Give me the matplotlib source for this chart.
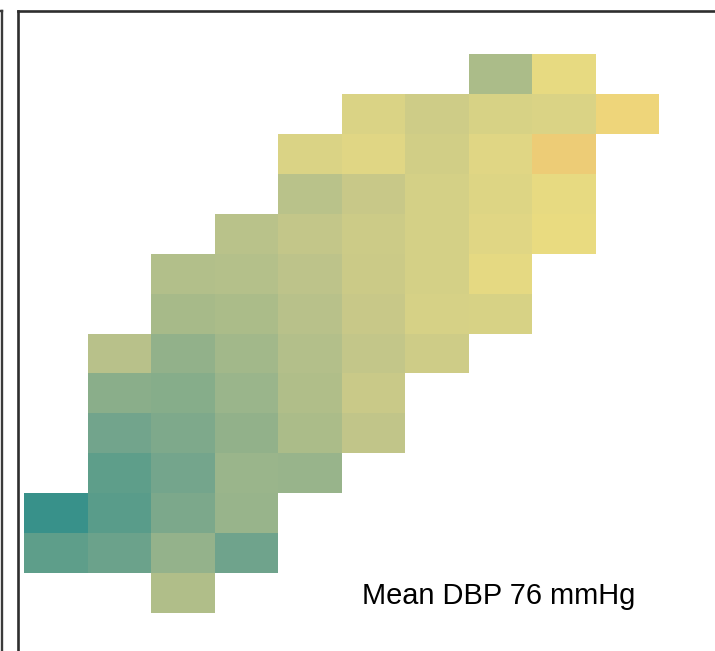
import numpy as np
import matplotlib
matplotlib.use("Agg")
import matplotlib.pyplot as plt
from matplotlib.colors import LinearSegmentedColormap, Normalize

# ---- data: mean DBP (mmHg) per cell, each row listed from its first occupied column ----
row_start = [7, 5, 4, 4, 3, 2, 2, 1, 1, 1, 1, 0, 0, 2]
row_values = [
    [74.0, 83.5],
    [81.0, 79.0, 80.5, 81.0, 86.0],
    [81.0, 82.0, 79.5, 82.0, 88.0],
    [76.0, 78.0, 80.0, 81.5, 83.5],
    [76.0, 77.3, 78.7, 80.0, 82.0, 84.0],
    [75.0, 75.3, 76.5, 78.5, 80.0, 83.0],
    [73.5, 74.0, 75.8, 78.0, 80.3, 80.5],
    [75.8, 71.0, 73.0, 75.2, 77.3, 79.0],
    [70.0, 69.6, 72.0, 74.7, 78.2],
    [67.0, 68.5, 71.0, 74.0, 77.0],
    [64.0, 67.3, 72.0, 71.8],
    [60.0, 63.6, 68.3, 71.8],
    [64.0, 66.0, 71.2, 66.5],
    [74.7],
]
n_cols = 10
label = "Mean DBP 76 mmHg"

# colour scale anchors (value, colour)
scale_values = [60, 64, 67, 70, 72, 74, 76, 78, 80, 82, 84, 86, 88]
scale_colors = ["#38918a", "#5e9e8a", "#72a48c", "#8aae8a", "#9ab58b", "#abbc89",
                "#b9c28a", "#c8c888", "#d4d086", "#e0d684", "#e9db80", "#eed57a", "#edcc76"]

vmin, vmax = scale_values[0], scale_values[-1]
cmap = LinearSegmentedColormap.from_list(
    "dbp", [((v - vmin) / (vmax - vmin), c) for v, c in zip(scale_values, scale_colors)])

n_rows = len(row_values)
grid = np.full((n_rows, n_cols), np.nan)
for r, (s, vals) in enumerate(zip(row_start, row_values)):
    grid[r, s:s + len(vals)] = vals

W, H = 715, 651
fig = plt.figure(figsize=(W / 100, H / 100), dpi=100)

# main panel (extends past the right and bottom edges of the picture)
ax_l, ax_r, ax_t, ax_b = 17.8, 740.0, 10.8, 670.0
ax = fig.add_axes([ax_l / W, 1 - ax_b / H, (ax_r - ax_l) / W, (ax_b - ax_t) / H])
cw, ch = 63.5, 39.93
x0, y0 = 24.0, 54.0
ax.set_xlim(-(x0 - ax_l) / cw, (ax_r - x0) / cw)
ax.set_ylim((ax_b - y0) / ch, -(y0 - ax_t) / ch)

masked = np.ma.masked_invalid(grid)
ax.pcolormesh(np.arange(n_cols + 1), np.arange(n_rows + 1), masked,
              cmap=cmap, norm=Normalize(vmin, vmax), shading="flat",
              edgecolors="face", linewidth=0, antialiased=False)
ax.set_xticks([])
ax.set_yticks([])
for sp in ax.spines.values():
    sp.set_color("#2e2e2e")
    sp.set_linewidth(1.9)

# neighbouring panel edge at far left
ax2 = fig.add_axes([-0.5, 1 - ax_b / H, 0.5 + 2.2 / W, (ax_b - 11.0) / H])
ax2.set_xticks([])
ax2.set_yticks([])
ax2.patch.set_alpha(0)
for sp in ax2.spines.values():
    sp.set_color("#3a3a3a")
    sp.set_linewidth(1.7)

fig.text(362 / W, 1 - 604 / H, label, fontsize=20.9, family="Liberation Sans",
         ha="left", va="baseline", color="black")

fig.savefig("out.png", dpi=100)
